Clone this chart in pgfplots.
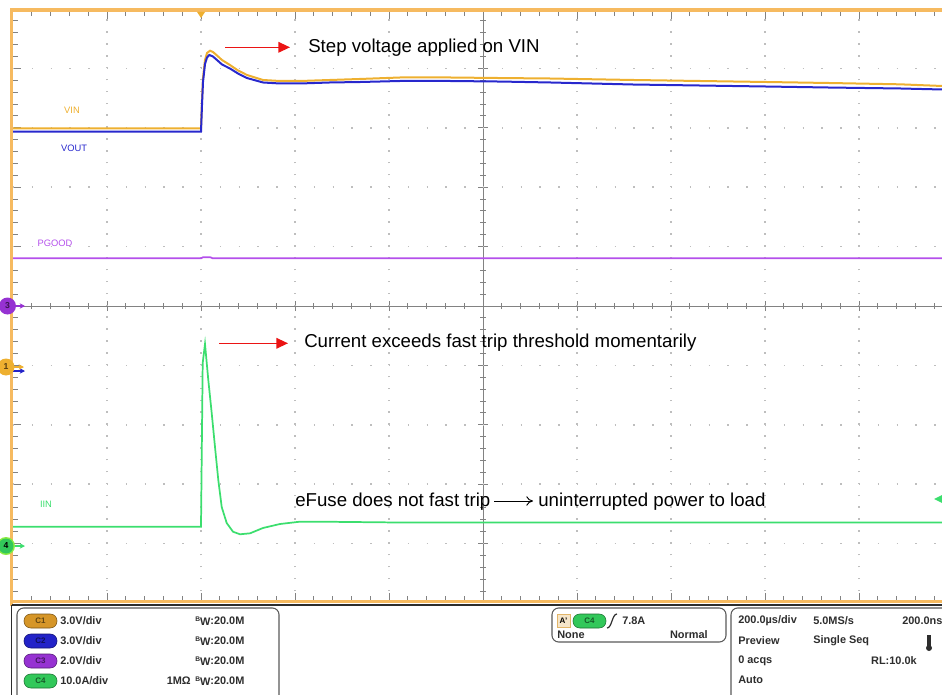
\documentclass[border=0pt]{standalone}
\usepackage{pgfplots}
\pgfplotsset{compat=1.18}
\usepackage{fontspec}
\setmainfont{Liberation Sans}
\usetikzlibrary{arrows.meta}

\definecolor{vinc}{RGB}{238,176,48}
\definecolor{voutc}{RGB}{40,40,205}
\definecolor{pgc}{RGB}{180,80,235}
\definecolor{iinc}{RGB}{60,222,110}
\definecolor{frameor}{RGB}{246,186,96}
\definecolor{gridc}{RGB}{190,190,190}
\definecolor{tickc}{RGB}{130,130,130}
\definecolor{panelc}{RGB}{45,45,45}
\definecolor{cA}{RGB}{214,150,40}
\definecolor{cB}{RGB}{35,35,200}
\definecolor{cC}{RGB}{150,50,210}
\definecolor{cD}{RGB}{50,200,90}
\definecolor{arrred}{RGB}{235,20,20}

\newcommand\pf{\fontsize{8.2}{9}\selectfont\bfseries}
\newcommand\bw{\raisebox{1.8pt}{\fontsize{5}{5}\selectfont B}\raisebox{-1.2pt}{W}:20.0M}
\tikzset{pill/.style={draw=#1!55!black, fill=#1, text=#1!45!black, rounded corners=5pt,
  minimum width=24.75pt, minimum height=10.5pt, inner sep=0pt,
  font=\fontsize{6}{6}\selectfont\bfseries}}

\begin{document}
\begin{tikzpicture}[x=0.75pt,y=0.75pt]
\useasboundingbox (0,0) rectangle (942,694);
\clip (0,0) rectangle (942,694);

% graticule centre lines and tick marks
\begin{scope}[tickc, line width=0.75pt]
\draw (13,388) -- (953,388);
\draw (483,91) -- (483,685);
\foreach \k in {1,...,49} {
  \draw ({13+18.8*\k},385) -- ({13+18.8*\k},391);
  \draw ({13+18.8*\k},682) -- ({13+18.8*\k},678);
  \draw ({13+18.8*\k},94) -- ({13+18.8*\k},98);
  \draw (480,{685-11.88*\k}) -- (486,{685-11.88*\k});
  \draw (13,{685-11.88*\k}) -- (18,{685-11.88*\k});
}
\foreach \k in {1,...,9} {
  \draw ({13+94*\k},383) -- ({13+94*\k},393);
  \draw ({13+94*\k},682) -- ({13+94*\k},675);
  \draw ({13+94*\k},94) -- ({13+94*\k},101);
  \draw (478,{685-59.4*\k}) -- (488,{685-59.4*\k});
  \draw (13,{685-59.4*\k}) -- (21,{685-59.4*\k});
}
\end{scope}

\begin{axis}[at={(9.75pt,68.25pt)}, anchor=south west, scale only axis,
  width=705pt, height=445.5pt,
  xmin=-400, xmax=1600, ymin=-5, ymax=5,
  axis line style={draw=none}, tick style={draw=none},
  xtick={-200,0,200,400,800,1000,1200,1400},
  ytick={-4,-3,-2,-1,1,2,3,4},
  xticklabels={}, yticklabels={}, major tick length=0pt,
  grid=major,
  major x grid style={gridc, line width=1.1pt, dash pattern=on 1.1pt off 7.81pt},
  major y grid style={gridc, line width=1.1pt, dash pattern=on 1.1pt off 13pt},
  clip=true]
% VIN (div)
\addplot[vinc, line width=1.5pt] coordinates {
(-400,2.992) (0,2.992) (2.13,3.468) (4.26,3.838) (8.51,4.141) (12.77,4.259)
(19.15,4.298) (25.53,4.276) (34.04,4.217) (44.68,4.141) (61.70,4.057) (78.72,3.965)
(97.87,3.889) (131.91,3.805) (168.09,3.788) (210.64,3.788) (274.47,3.805)
(338.30,3.822) (423.40,3.847) (529.79,3.847) (636.17,3.838) (742.55,3.830)
(919.15,3.805) (1061.70,3.788) (1204.26,3.771) (1338.30,3.754) (1487.23,3.732)
(1576.60,3.704) (1600,3.695)};
% VOUT (div)
\addplot[voutc, line width=1.5pt] coordinates {
(-400,2.934) (0,2.934) (2.13,3.384) (4.26,3.771) (8.51,4.074) (12.77,4.184)
(17.66,4.226) (25.53,4.200) (34.04,4.141) (44.68,4.066) (61.70,3.998) (78.72,3.914)
(97.87,3.838) (131.91,3.763) (168.09,3.746) (210.64,3.746) (274.47,3.763)
(338.30,3.771) (423.40,3.788) (529.79,3.788) (636.17,3.779) (742.55,3.763)
(919.15,3.729) (1061.70,3.712) (1204.26,3.695) (1338.30,3.678) (1487.23,3.662)
(1576.60,3.645) (1600,3.640)};
% PGOOD (div)
\addplot[pgc, line width=1.3pt] coordinates {
(-400,0.803) (0,0.803) (4,0.82) (20,0.82) (25,0.803) (1600,0.803)};
% IIN (div)
\addplot[iinc, line width=1.3pt] coordinates {
(-400,-3.716) (0,-3.716) (3.62,-0.960) (8.51,-0.640) (15.53,-1.246) (22.77,-1.801)
(29.79,-2.374) (36.81,-2.929) (44.04,-3.384) (54.68,-3.653) (68.09,-3.800)
(82.98,-3.843) (104.26,-3.827) (131.91,-3.737) (168.09,-3.670) (210.64,-3.631)
(253.19,-3.631) (423.40,-3.645) (1600,-3.645)};
\end{axis}

% orange frame
\fill[frameor] (10,88) rectangle (13.3,686);
\fill[frameor] (10,682.3) rectangle (950,685.7);
\fill[frameor] (10,90.7) rectangle (950,94);

% trace labels
\node[vinc, font=\fontsize{7}{8}\selectfont] at (72,584) {VIN};
\node[voutc, font=\fontsize{7}{8}\selectfont] at (74,546) {VOUT};
\node[pgc, font=\fontsize{7}{8}\selectfont] at (55,451) {PGOOD};
\node[iinc, font=\fontsize{7}{8}\selectfont] at (46,190) {IIN};

% trigger markers
\fill[vinc] (197,682) -- (205,682) -- (201,676) -- cycle;
\fill[iinc] (934,195) -- (943,199.5) -- (943,190.5) -- cycle;

% channel markers
\draw[cC, line width=1.1pt, -{Stealth[length=4pt,width=4pt]}] (13,388) -- (25,388);
\fill[cC] (7.5,388) circle (8.5);
\node[font=\fontsize{6.5}{6}\selectfont\bfseries, text=cC!40!black] at (7.5,388) {3};
\draw[cB, line width=1.1pt, -{Stealth[length=4pt,width=4pt]}] (13,323) -- (25,323);
\draw[vinc, line width=1.1pt, -{Stealth[length=4pt,width=4pt]}] (13,327) -- (24,327);
\fill[vinc] (6,327) circle (8.5);
\node[font=\fontsize{6.5}{6}\selectfont\bfseries, text=cA!40!black] at (6,327) {1};
\draw[iinc, line width=1.1pt, -{Stealth[length=4pt,width=4pt]}] (13,148) -- (25,148);
\fill[iinc!60!yellow] (6,148) circle (9);
\fill[cD] (6,148) circle (7.5);
\node[font=\fontsize{6.5}{6}\selectfont\bfseries, text=black] at (6,148) {4};

% annotations
\draw[arrred, line width=1pt, -{Triangle[length=8.75pt,width=8pt]}] (225,646.7) -- (290,646.7);
\node[anchor=west, inner sep=0pt, font=\fontsize{14}{16}\selectfont] at (308,646) {Step voltage applied on VIN};
\draw[arrred, line width=1pt, -{Triangle[length=8.75pt,width=8pt]}] (219,350.7) -- (288,350.7);
\node[anchor=west, inner sep=0pt, font=\fontsize{14}{16}\selectfont] at (304,351) {Current exceeds fast trip threshold momentarily};
\node[anchor=west, inner sep=0pt, font=\fontsize{14}{16}\selectfont] at (295,192) {eFuse does not fast trip};
\draw[line width=0.7pt, -{To[length=5pt,width=7pt]}] (494,193) -- (533,193);
\node[anchor=west, inner sep=0pt, font=\fontsize{14}{16}\selectfont] at (538,192) {uninterrupted power to load};

% status panel
\draw[panelc, line width=1pt] (11.7,89) -- (950,89);
\draw[panelc, line width=1pt] (11.7,89) -- (11.7,-5);
\draw[gray!70!black, line width=0.8pt, rounded corners=5] (17,-10) rectangle (279,86);
\draw[gray!70!black, line width=0.8pt, rounded corners=5] (552,52) rectangle (726,86);
\draw[gray!70!black, line width=0.8pt, rounded corners=5] (731,-10) rectangle (970,86);

\node[pill=cA] at (40.5,73) {C1};
\node[pill=cB] at (40.5,53) {C2};
\node[pill=cC] at (40.5,33) {C3};
\node[pill=cD] at (40.5,13) {C4};
\begin{scope}[every node/.style={text=panelc, font=\pf, inner sep=0pt}]
\node[anchor=west] at (60,73) {3.0V/div};
\node[anchor=west] at (60,53) {3.0V/div};
\node[anchor=west] at (60,33) {2.0V/div};
\node[anchor=west] at (60,13) {10.0A/div};
\node[anchor=west] at (195,73) {\bw};
\node[anchor=west] at (195,53) {\bw};
\node[anchor=west] at (195,33) {\bw};
\node[anchor=west] at (195,13) {\bw};
\node[anchor=east] at (191,13) {1MΩ};

\node[anchor=west] at (622,73) {7.8A};
\node[anchor=west] at (557,59) {None};
\node[anchor=east] at (708,59) {Normal};

\node[anchor=west] at (738,73) {200.0µs/div};
\node[anchor=west] at (813,73) {5.0MS/s};
\node[anchor=west] at (902,73) {200.0ns};
\node[anchor=west] at (738,53) {Preview};
\node[anchor=west] at (813,53) {Single Seq};
\node[anchor=west] at (738,33) {0 acqs};
\node[anchor=east] at (917,33) {RL:10.0k};
\node[anchor=west] at (738,14) {Auto};
\end{scope}
\node[draw=cA!70, fill=cA!25, inner sep=1pt, minimum width=9.5pt, minimum height=9.5pt, font=\fontsize{6}{6}\selectfont\bfseries] at (563.5,73) {A'};
\node[pill=cD] at (589.5,73) {C4};
\draw[panelc, line width=0.9pt] (607,66) .. controls (612,66) and (612,80) .. (617,80);
\fill[panelc] (929,46) circle (3);
\draw[panelc, line width=2.4pt] (929,47) -- (929,59);
\end{tikzpicture}
\end{document}
